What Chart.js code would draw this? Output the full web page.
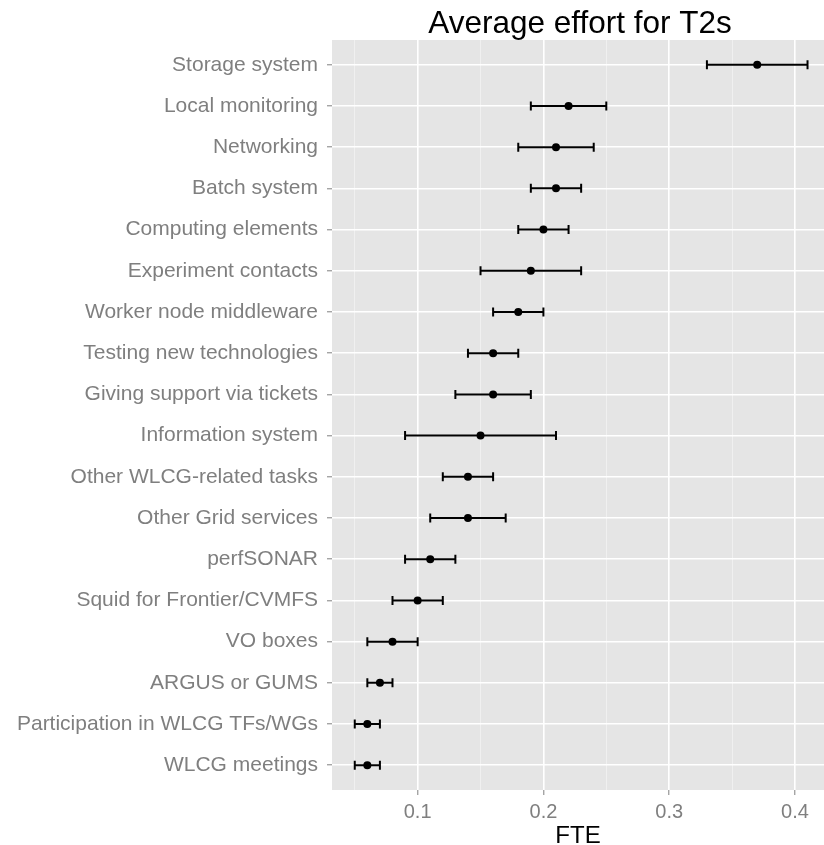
<!DOCTYPE html>
<html>
<head>
<meta charset="utf-8">
<script src="https://cdn.jsdelivr.net/npm/chart.js@4/dist/chart.umd.min.js"></script>
<style>
  html, body { margin: 0; padding: 0; background: #ffffff; }
  canvas { display: block; }
</style>
</head>
<body>
<canvas id="c" width="824" height="845"></canvas>
<script>
const categories = [
  "Storage system",
  "Local monitoring",
  "Networking",
  "Batch system",
  "Computing elements",
  "Experiment contacts",
  "Worker node middleware",
  "Testing new technologies",
  "Giving support via tickets",
  "Information system",
  "Other WLCG-related tasks",
  "Other Grid services",
  "perfSONAR",
  "Squid for Frontier/CVMFS",
  "VO boxes",
  "ARGUS or GUMS",
  "Participation in WLCG TFs/WGs",
  "WLCG meetings"
];
const meanFTE = [0.37, 0.22, 0.21, 0.21, 0.20, 0.19, 0.18, 0.16, 0.16, 0.15, 0.14, 0.14, 0.11, 0.10, 0.08, 0.07, 0.06, 0.06];
const lowFTE  = [0.33, 0.19, 0.18, 0.19, 0.18, 0.15, 0.16, 0.14, 0.13, 0.09, 0.12, 0.11, 0.09, 0.08, 0.06, 0.06, 0.05, 0.05];
const highFTE = [0.41, 0.25, 0.24, 0.23, 0.22, 0.23, 0.20, 0.18, 0.19, 0.21, 0.16, 0.17, 0.13, 0.12, 0.10, 0.08, 0.07, 0.07];
const majorTicks = [0.1, 0.2, 0.3, 0.4];
const minorTicks = [0.05, 0.15, 0.25, 0.35];
const titleText = "Average effort for T2s";
const xTitle = "FTE";

const FONT = "'Liberation Sans', Arial, Helvetica, sans-serif";
const isMajor = v => majorTicks.some(m => Math.abs(m - v) < 1e-9);

const panelBg = {
  id: 'panelBg',
  beforeDraw(chart) {
    const a = chart.chartArea, c = chart.ctx;
    c.save();
    c.fillStyle = '#E5E5E5';
    c.fillRect(a.left, a.top, a.right - a.left, a.bottom - a.top);
    c.restore();
  }
};

const errorBars = {
  id: 'errorBars',
  beforeDatasetsDraw(chart) {
    const c = chart.ctx, xs = chart.scales.x, ys = chart.scales.y;
    c.save();
    c.strokeStyle = '#000';
    c.lineWidth = 2;
    c.lineCap = 'butt';
    for (let i = 0; i < categories.length; i++) {
      const y = ys.getPixelForValue(i);
      const x1 = xs.getPixelForValue(lowFTE[i]);
      const x2 = xs.getPixelForValue(highFTE[i]);
      c.beginPath();
      c.moveTo(x1, y); c.lineTo(x2, y);
      c.moveTo(x1, y - 4.5); c.lineTo(x1, y + 4.5);
      c.moveTo(x2, y - 4.5); c.lineTo(x2, y + 4.5);
      c.stroke();
    }
    c.restore();
  }
};

const panelTitle = {
  id: 'panelTitle',
  afterDraw(chart) {
    const a = chart.chartArea, c = chart.ctx;
    c.save();
    c.fillStyle = '#000';
    c.font = '31.5px ' + FONT;
    c.textAlign = 'center';
    c.textBaseline = 'alphabetic';
    c.fillText(titleText, (a.left + a.right) / 2 + 2, 33);
    c.restore();
  }
};

new Chart(document.getElementById('c'), {
  type: 'scatter',
  data: {
    datasets: [{
      data: categories.map((c, i) => ({ x: meanFTE[i], y: i })),
      pointRadius: 4,
      pointHoverRadius: 4,
      backgroundColor: '#000',
      borderColor: '#000',
      borderWidth: 0,
      clip: false
    }]
  },
  options: {
    responsive: false,
    animation: false,
    events: [],
    layout: { autoPadding: false, padding: { top: 40, right: 0, left: 0, bottom: 0 } },
    plugins: { legend: { display: false }, tooltip: { enabled: false }, title: { display: false } },
    scales: {
      x: {
        type: 'linear',
        min: 0.0319,
        max: 0.4231,
        afterBuildTicks: s => { s.ticks = minorTicks.concat(majorTicks).sort((a, b) => a - b).map(v => ({ value: v })); },
        afterFit: s => { s.height = 55; },
        ticks: {
          autoSkip: false,
          maxRotation: 0,
          padding: 5,
          color: '#7F7F7F',
          font: { family: FONT, size: 20 },
          callback: v => isMajor(v) ? String(v) : ''
        },
        grid: {
          color: ctx => (ctx.tick && isMajor(ctx.tick.value)) ? '#FFFFFF' : '#F2F2F2',
          lineWidth: ctx => (ctx.tick && isMajor(ctx.tick.value)) ? 1.6 : 0.8,
          tickColor: ctx => (ctx.tick && isMajor(ctx.tick.value)) ? '#7F7F7F' : 'rgba(0,0,0,0)',
          tickLength: 5,
          tickWidth: 1
        },
        border: { display: false },
        title: { display: true, text: xTitle, color: '#000', font: { family: FONT, size: 24 }, padding: { top: 0, bottom: -6 } }
      },
      y: {
        type: 'linear',
        reverse: true,
        min: -0.6,
        max: 17.6,
        afterBuildTicks: s => { s.ticks = categories.map((c, i) => ({ value: i })); },
        afterFit: s => { s.width = 332; },
        ticks: {
          autoSkip: false,
          padding: 9,
          color: '#7F7F7F',
          font: { family: FONT, size: 21 },
          callback: v => categories[v]
        },
        grid: { color: '#FFFFFF', lineWidth: 1.6, tickColor: '#7F7F7F', tickLength: 5, tickWidth: 1 },
        border: { display: false }
      }
    }
  },
  plugins: [panelBg, errorBars, panelTitle]
});
</script>
</body>
</html>
